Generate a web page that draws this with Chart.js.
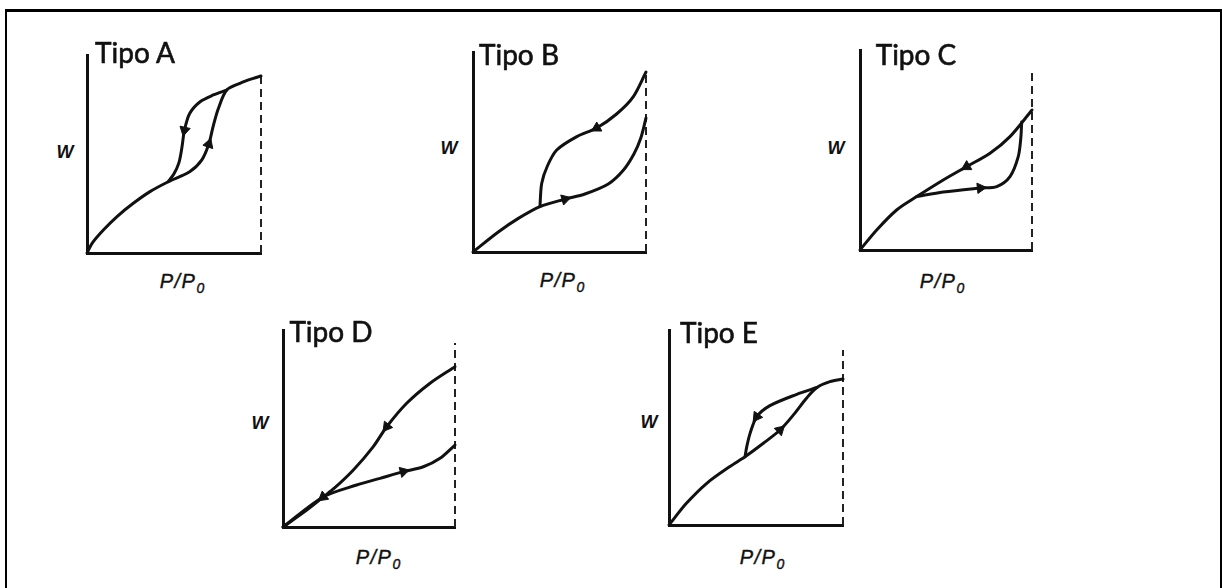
<!DOCTYPE html>
<html>
<head>
<meta charset="utf-8">
<script src="https://cdn.jsdelivr.net/npm/chart.js@4.4.1/dist/chart.umd.min.js"></script>
<style>
  body {
    margin: 0;
    width: 1222px;
    height: 588px;
    overflow: hidden;
    position: relative;
    background: #fff;
    font-family: "Liberation Sans", Arial, sans-serif;
    color: #111;
  }
  .frame {
    position: absolute;
    left: 5px;
    top: 9px;
    width: 1213px;
    height: 600px;
    border-top: 3px solid #000;
    border-left: 2px solid #000;
    border-right: 2px solid #000;
  }
  .plot { position: absolute; }
  .lbl {
    position: absolute;
    transform: translate(-50%, -50%);
    line-height: 1;
    white-space: nowrap;
  }
  .title { font-family: Lato, sans-serif; font-size: 28px; -webkit-text-stroke: 0.6px #111; }
  .ylab { font-style: italic; font-weight: bold; font-size: 18px; }
  .xlab { font-style: italic; font-size: 20px; letter-spacing: 1.5px; -webkit-text-stroke: 0.4px #111; }
  .xlab sub { font-size: 14px; vertical-align: baseline; position: relative; top: 5px; letter-spacing: 0; }
</style>
</head>
<body>
<div class="frame"></div>
<div id="root"></div>
<script>
// W vs P/P0, both axes 0..1 (x = 1 at the dashed saturation line)
const tipoA_adsorcion = [[0, 0], [0.03, 0.05], [0.094, 0.116], [0.171, 0.183], [0.266, 0.251], [0.362, 0.31], [0.467, 0.36], [0.59, 0.41], [0.66, 0.47], [0.70, 0.55], [0.725, 0.64], [0.755, 0.73], [0.803, 0.823], [0.879, 0.857], [0.956, 0.882], [1.0, 0.894]];
const tipoA_desorcion = [[0.803, 0.823], [0.726, 0.798], [0.65, 0.764], [0.59, 0.705], [0.56, 0.62], [0.545, 0.53], [0.528, 0.455], [0.50, 0.40], [0.467, 0.36]];

const tipoB_adsorcion = [[0, 0], [0.146, 0.10], [0.262, 0.168], [0.387, 0.227], [0.532, 0.264], [0.647, 0.29], [0.782, 0.34], [0.87, 0.41], [0.93, 0.49], [0.97, 0.57], [1.0, 0.67]];
const tipoB_desorcion = [[1.0, 0.90], [0.927, 0.777], [0.83, 0.69], [0.715, 0.62], [0.60, 0.577], [0.484, 0.51], [0.43, 0.43], [0.397, 0.343], [0.387, 0.227]];

const tipoC_desorcion = [[1.0, 0.70], [0.872, 0.567], [0.756, 0.484], [0.62, 0.417], [0.484, 0.35], [0.33, 0.267], [0.213, 0.20], [0.097, 0.10], [0, 0]];
const tipoC_adsorcion = [[0.33, 0.267], [0.484, 0.29], [0.70, 0.31], [0.795, 0.317], [0.872, 0.367], [0.92, 0.467], [0.935, 0.56], [0.94, 0.64]];

const tipoD_desorcion = [[1.0, 0.814], [0.855, 0.73], [0.719, 0.628], [0.603, 0.509], [0.525, 0.408], [0.409, 0.289], [0.30, 0.198], [0.233, 0.152], [0.138, 0.086], [0, 0]];
const tipoD_adsorcion = [[0, 0], [0.233, 0.152], [0.428, 0.213], [0.564, 0.247], [0.70, 0.281], [0.816, 0.306], [0.913, 0.349], [1.0, 0.416]];

const tipoE_adsorcion = [[0, 0], [0.10, 0.111], [0.217, 0.214], [0.35, 0.30], [0.437, 0.35], [0.542, 0.419], [0.638, 0.487], [0.72, 0.57], [0.79, 0.65], [0.85, 0.705], [0.925, 0.735], [1.0, 0.749]];
const tipoE_desorcion = [[0.85, 0.705], [0.734, 0.67], [0.58, 0.612], [0.504, 0.555], [0.466, 0.47], [0.447, 0.402], [0.437, 0.35]];

// height reached by the dashed P/P0 = 1 line
const lineaSaturacion = { A: 0.91, B: 0.905, C: 0.89, D: 0.934, E: 0.897 };

// layout of each small plot (pixel box of the plot area) and where its arrows sit
const plots = [
  { name: "Tipo A", key: "A", box: [87, 55, 261, 253], curves: [[tipoA_adsorcion, [9]], [tipoA_desorcion, [4]]],
    title: [135, 52], w: [65, 152], x: [182, 281] },
  { name: "Tipo B", key: "B", box: [473, 52, 646, 252], curves: [[tipoB_adsorcion, [4]], [tipoB_desorcion, [3]]],
    title: [519, 54], w: [449, 148], x: [562, 280] },
  { name: "Tipo C", key: "C", box: [860, 50, 1032, 250], curves: [[tipoC_desorcion, [3]], [tipoC_adsorcion, [2]]],
    title: [916, 54], w: [836, 148], x: [942, 281] },
  { name: "Tipo D", key: "D", box: [283, 330, 455, 527], curves: [[tipoD_desorcion, [3, 7]], [tipoD_adsorcion, [4]]],
    title: [331, 331], w: [260, 423], x: [378, 557] },
  { name: "Tipo E", key: "E", box: [669, 330, 843, 525], curves: [[tipoE_adsorcion, [6]], [tipoE_desorcion, [3]]],
    title: [719, 332], w: [649, 422], x: [762, 557] },
];

const PAD = 8;

function arrowAngle(ctx) {
  const pts = ctx.dataset.data;
  const i = ctx.dataIndex;
  const a = pts[Math.max(i - 1, 0)];
  const b = pts[Math.min(i + 1, pts.length - 1)];
  const sx = ctx.chart.scales.x;
  const sy = ctx.chart.scales.y;
  const dx = sx.getPixelForValue(b.x) - sx.getPixelForValue(a.x);
  const dy = sy.getPixelForValue(b.y) - sy.getPixelForValue(a.y);
  return (Math.atan2(dx, -dy) * 180) / Math.PI;
}

function addLabel(cls, html, pos) {
  const el = document.createElement("div");
  el.className = "lbl " + cls;
  el.innerHTML = html;
  el.style.left = pos[0] + "px";
  el.style.top = pos[1] + "px";
  document.body.appendChild(el);
}

plots.forEach((p) => {
  const [l, t, r, b] = p.box;
  const wrap = document.createElement("div");
  wrap.className = "plot";
  wrap.style.left = l - PAD + "px";
  wrap.style.top = t - PAD + "px";
  wrap.style.width = r - l + 2 * PAD + "px";
  wrap.style.height = b - t + 2 * PAD + "px";
  const canvas = document.createElement("canvas");
  wrap.appendChild(canvas);
  document.getElementById("root").appendChild(wrap);

  const datasets = p.curves.map(([pts, arrows]) => ({
    data: pts.map(([x, y]) => ({ x, y })),
    showLine: true,
    borderColor: "#111",
    backgroundColor: "#111",
    borderWidth: 3,
    tension: 0.3,
    borderCapStyle: "round",
    borderJoinStyle: "round",
    pointStyle: "triangle",
    pointRadius: (ctx) => (arrows.includes(ctx.dataIndex) ? 6 : 0),
    pointRotation: arrowAngle,
    pointBorderWidth: 1,
    clip: false,
  }));

  // dashed line at P/P0 = 1
  datasets.push({
    data: [{ x: 1, y: 0 }, { x: 1, y: lineaSaturacion[p.key] }],
    showLine: true,
    borderColor: "#222",
    borderWidth: 2,
    borderDash: [8, 5],
    pointRadius: 0,
    clip: false,
  });

  new Chart(canvas, {
    type: "scatter",
    data: { datasets },
    options: {
      responsive: true,
      maintainAspectRatio: false,
      animation: false,
      events: [],
      layout: { padding: PAD },
      plugins: { legend: { display: false }, tooltip: { enabled: false } },
      scales: {
        x: {
          type: "linear",
          min: 0,
          max: 1,
          ticks: { display: false },
          grid: { display: false, drawTicks: false },
          border: { display: true, color: "#111", width: 3 },
        },
        y: {
          type: "linear",
          min: 0,
          max: 1,
          ticks: { display: false },
          grid: { display: false, drawTicks: false },
          border: { display: true, color: "#111", width: 3 },
        },
      },
    },
  });

  addLabel("title", p.name, p.title);
  addLabel("ylab", "W", p.w);
  addLabel("xlab", "P/P<sub>0</sub>", p.x);
});
</script>
</body>
</html>
